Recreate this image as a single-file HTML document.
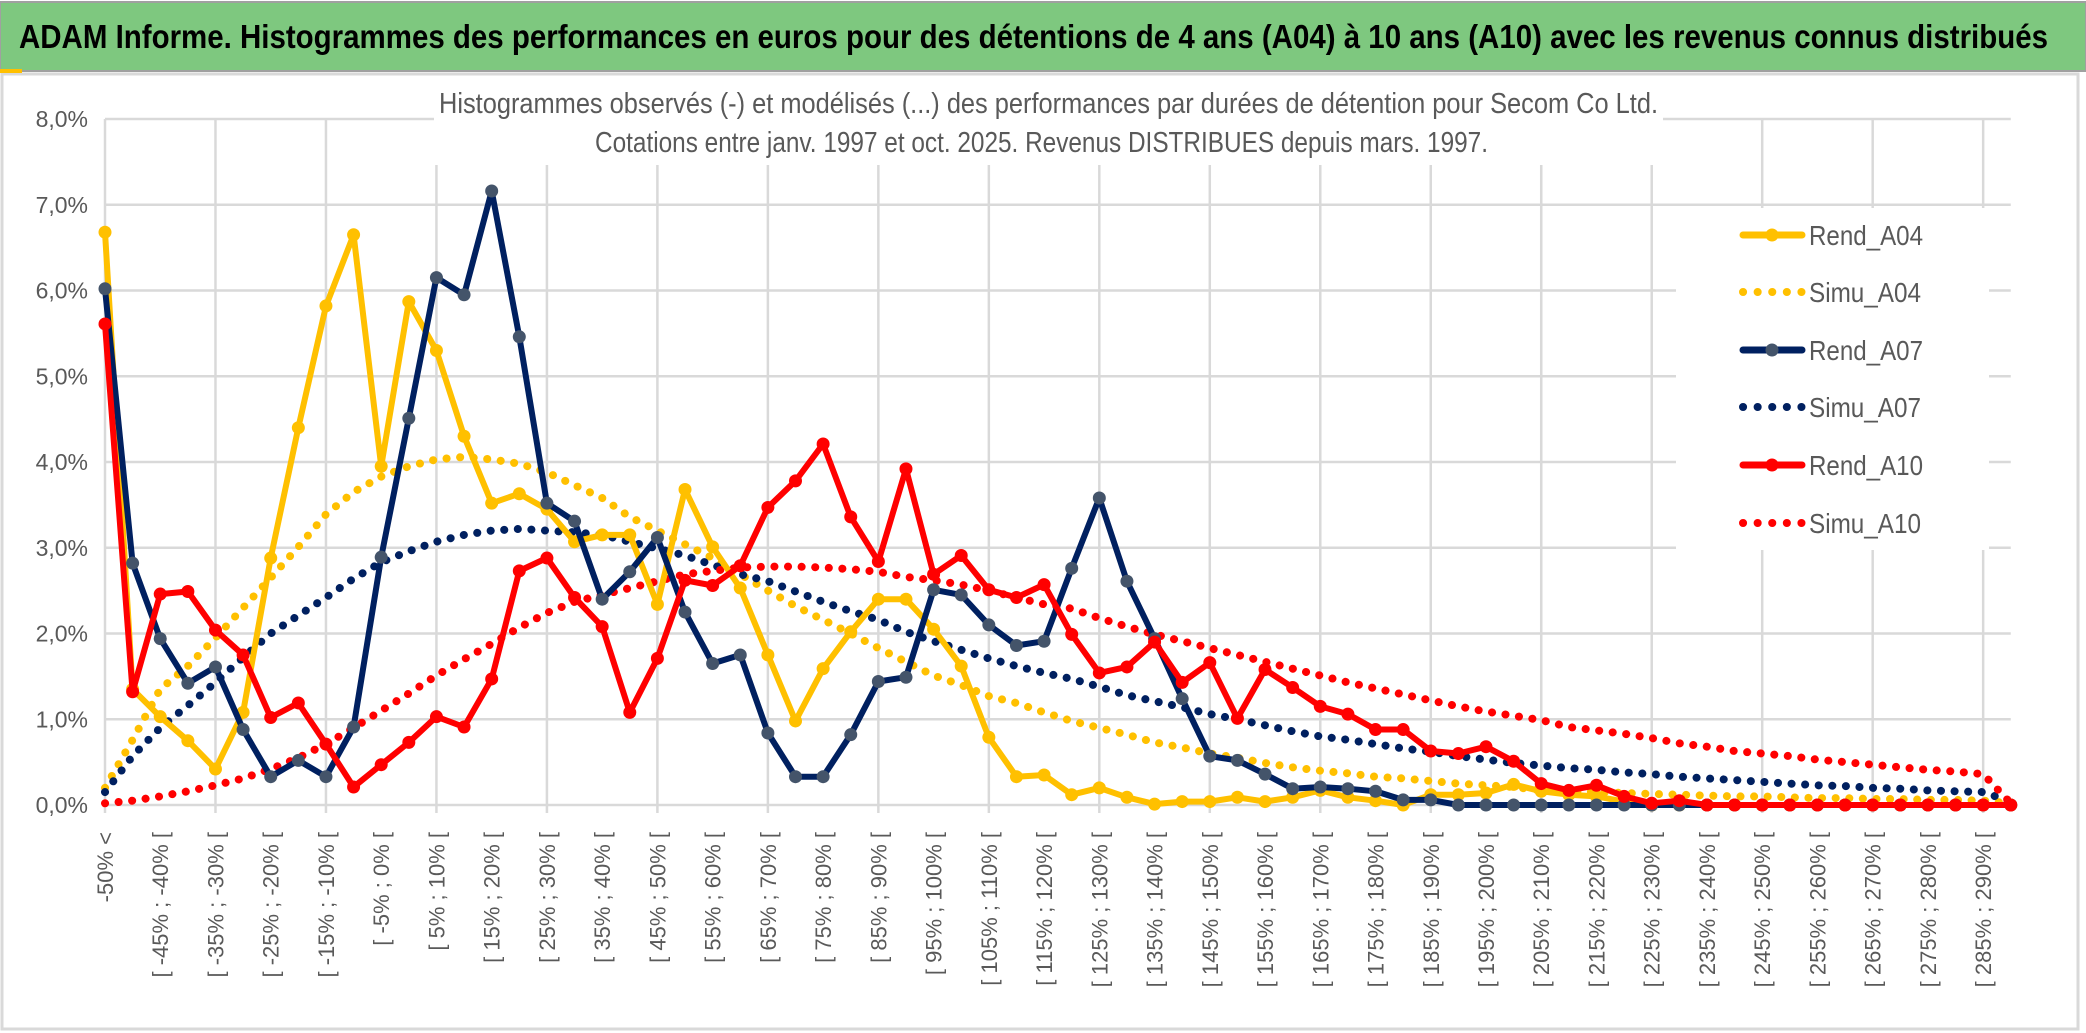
<!DOCTYPE html>
<html><head><meta charset="utf-8"><style>
html,body{margin:0;padding:0;background:#fff;width:2086px;height:1033px;overflow:hidden}
svg{display:block;font-family:"Liberation Sans",sans-serif}
</style></head><body>
<svg id="chart" width="2086" height="1033" viewBox="0 0 2086 1033" xmlns="http://www.w3.org/2000/svg">
<rect x="0" y="0" width="2086" height="1033" fill="#fff"/>
<rect x="2" y="74" width="2076" height="955" fill="#fff" stroke="#d9d9d9" stroke-width="3"/>
<rect x="0" y="2" width="2086" height="69" fill="#7ec87f" stroke="#a0a0a0" stroke-width="2"/>
<rect x="0" y="69" width="22" height="4" fill="#ffc000"/>
<text x="19" y="48" font-size="33" font-weight="bold" fill="#000" textLength="2029" lengthAdjust="spacingAndGlyphs">ADAM Informe. Histogrammes des performances en euros pour des détentions de 4 ans (A04) à 10 ans (A10) avec les revenus connus distribués</text>
<g id="grid"></g>
<rect x="434" y="80" width="1229" height="85" fill="#fff"/>
<text x="439" y="113" font-size="29" fill="#595959" textLength="1219" lengthAdjust="spacingAndGlyphs">Histogrammes observés (-) et modélisés (...) des performances par durées de détention pour Secom Co Ltd.</text>
<text x="595" y="152" font-size="29" fill="#595959" textLength="893" lengthAdjust="spacingAndGlyphs">Cotations entre janv. 1997 et oct. 2025. Revenus DISTRIBUES depuis mars. 1997.</text>
<g id="series"></g>
<g id="legend"></g>
</svg>
<script>
const categoriesCount = 70;
const yTicks = [0,1,2,3,4,5,6,7,8];
const yTickLabels = ["0,0%","1,0%","2,0%","3,0%","4,0%","5,0%","6,0%","7,0%","8,0%"];
const rendA04 = [6.68,1.35,1.03,0.75,0.42,1.08,2.88,4.40,5.82,6.65,3.95,5.87,5.30,4.30,3.52,3.63,3.45,3.07,3.15,3.15,2.34,3.68,3.01,2.53,1.75,0.98,1.59,2.02,2.40,2.40,2.05,1.62,0.79,0.33,0.35,0.12,0.20,0.09,0.01,0.04,0.04,0.09,0.04,0.09,0.17,0.09,0.05,0.00,0.12,0.12,0.14,0.24,0.16,0.12,0.10,0.04,0,0,0,0,0,0,0,0,0,0,0,0,0,0];
const simuA04 = [0.20,0.76,1.35,1.62,1.95,2.30,2.65,3.01,3.39,3.65,3.83,3.95,4.03,4.06,4.03,3.98,3.88,3.73,3.58,3.36,3.20,3.04,2.88,2.69,2.50,2.32,2.16,2.00,1.83,1.67,1.51,1.40,1.27,1.19,1.08,0.98,0.90,0.82,0.73,0.67,0.60,0.55,0.49,0.44,0.40,0.37,0.33,0.31,0.28,0.25,0.23,0.21,0.17,0.16,0.15,0.14,0.13,0.12,0.11,0.10,0.10,0.09,0.08,0.08,0.07,0.07,0.06,0.06,0.05,0.02];
const rendA07 = [6.02,2.82,1.94,1.42,1.61,0.88,0.33,0.52,0.33,0.91,2.89,4.51,6.15,5.95,7.16,5.46,3.52,3.31,2.40,2.72,3.12,2.25,1.65,1.75,0.84,0.33,0.33,0.82,1.44,1.49,2.51,2.45,2.10,1.86,1.91,2.76,3.58,2.61,1.94,1.24,0.57,0.52,0.36,0.19,0.21,0.19,0.16,0.06,0.06,0,0,0,0,0,0,0,0,0,0,0,0,0,0,0,0,0,0,0,0,0];
const simuA07 = [0.15,0.57,0.90,1.16,1.43,1.72,2.00,2.21,2.42,2.64,2.83,2.96,3.07,3.15,3.20,3.22,3.20,3.18,3.15,3.07,2.99,2.91,2.80,2.69,2.61,2.49,2.37,2.26,2.16,2.02,1.91,1.81,1.71,1.62,1.54,1.47,1.38,1.28,1.21,1.14,1.06,1.00,0.93,0.86,0.80,0.76,0.71,0.66,0.62,0.57,0.53,0.49,0.46,0.43,0.41,0.38,0.36,0.33,0.31,0.29,0.27,0.25,0.23,0.22,0.20,0.19,0.17,0.16,0.15,0.04];
const rendA10 = [5.61,1.32,2.46,2.49,2.04,1.75,1.02,1.19,0.71,0.21,0.47,0.73,1.03,0.91,1.47,2.73,2.88,2.42,2.08,1.08,1.71,2.62,2.56,2.79,3.47,3.78,4.21,3.36,2.84,3.92,2.69,2.91,2.51,2.42,2.57,1.99,1.54,1.61,1.90,1.43,1.66,1.01,1.58,1.37,1.15,1.06,0.88,0.88,0.63,0.60,0.68,0.51,0.25,0.17,0.23,0.10,0.02,0.05,0,0,0,0,0,0,0,0,0,0,0,0];
const simuA10 = [0.02,0.05,0.10,0.16,0.23,0.31,0.42,0.55,0.71,0.90,1.10,1.30,1.51,1.70,1.88,2.07,2.24,2.37,2.45,2.53,2.61,2.69,2.73,2.77,2.78,2.78,2.77,2.75,2.72,2.66,2.62,2.57,2.50,2.42,2.34,2.29,2.18,2.08,1.99,1.91,1.83,1.75,1.67,1.59,1.51,1.43,1.36,1.29,1.22,1.15,1.09,1.04,0.99,0.91,0.87,0.83,0.78,0.72,0.68,0.63,0.60,0.57,0.53,0.50,0.47,0.44,0.41,0.39,0.36,0.02];

const NS="http://www.w3.org/2000/svg";
const X0=105, DX=27.62, Y0=805, DY=85.75;
function xs(i){return X0+i*DX;}
function ys(v){return Y0-v*DY;}
function mk(tag,attrs,parent){const e=document.createElementNS(NS,tag);for(const k in attrs)e.setAttribute(k,attrs[k]);parent.appendChild(e);return e;}
function catLabel(i){
  if(i===0) return "-50% <";
  const a=-55+5*i, b=-50+5*i;
  return "[ "+a+"% ; "+b+"% [";
}
const grid=document.getElementById('grid');
const xEnd=xs(categoriesCount-1);
yTicks.forEach((t,k)=>{
  const l=mk('line',{x1:X0,x2:xEnd,y1:ys(t),y2:ys(t),stroke:'#d9d9d9','stroke-width':2.5},grid);
  
  
  const tx=mk('text',{x:88,y:ys(t)+8,'text-anchor':'end','font-size':23,fill:'#595959'},grid);
  tx.textContent=yTickLabels[k];
  
  
});
for(let i=0;i<categoriesCount;i+=4){
  const l=mk('line',{x1:xs(i),x2:xs(i),y1:ys(8),y2:Y0+8,stroke:'#d9d9d9','stroke-width':2.5},grid);
  
  
}
for(let i=0;i<categoriesCount;i+=2){
  const tx=mk('text',{x:0,y:0,'text-anchor':'end','font-size':22,fill:'#595959',transform:'translate('+(xs(i)+8)+',832) rotate(-90)'},grid);
  tx.textContent=catLabel(i);
  
  
}
const series=[
  {name:'rend-a04',label:'Rend_A04',data:rendA04,color:'#ffc000',marker:'#ffc000',dotted:false},
  {name:'simu-a04',label:'Simu_A04',data:simuA04,color:'#ffc000',dotted:true},
  {name:'rend-a07',label:'Rend_A07',data:rendA07,color:'#002060',marker:'#44546a',dotted:false},
  {name:'simu-a07',label:'Simu_A07',data:simuA07,color:'#002060',dotted:true},
  {name:'rend-a10',label:'Rend_A10',data:rendA10,color:'#ff0000',marker:'#ff0000',dotted:false},
  {name:'simu-a10',label:'Simu_A10',data:simuA10,color:'#ff0000',dotted:true}
];
const sg=document.getElementById('series');
const drawOrder=[1,3,5,0,2,4];
drawOrder.forEach(si=>{
  const s=series[si];
  const g=mk('g',{},sg);
  
  
  const pts=s.data.map((v,i)=>xs(i).toFixed(1)+','+ys(v).toFixed(1)).join(' ');
  const attrs={points:pts,fill:'none',stroke:s.color,'stroke-linejoin':'round','stroke-linecap':'round'};
  if(s.dotted){attrs['stroke-width']=8;attrs['stroke-dasharray']='0.1 13.5';}
  else attrs['stroke-width']=6;
  const pl=mk('polyline',attrs,g);
  
  
  if(!s.dotted){
    s.data.forEach((v,i)=>{
      const c=mk('circle',{cx:xs(i),cy:ys(v),r:6.5,fill:s.marker},g);
      
      
    });
  }
});
const lg=document.getElementById('legend');
mk('rect',{x:1676,y:208,width:313,height:342,fill:'#fff'},lg);


const legY=[235,292,350,407,465,523];
series.forEach((s,k)=>{
  const g=mk('g',{},lg);
  
  
  const y=legY[k];
  if(s.dotted){
    mk('line',{x1:1743,x2:1805,y1:y,y2:y,stroke:s.color,'stroke-width':8,'stroke-linecap':'round','stroke-dasharray':'0.1 14.5'},g);
  } else {
    mk('line',{x1:1743,x2:1802,y1:y,y2:y,stroke:s.color,'stroke-width':7,'stroke-linecap':'round'},g);
    mk('circle',{cx:1772,cy:y,r:6.5,fill:s.marker},g);
  }
  const t=mk('text',{x:1809,y:y+10,'font-size':28,fill:'#595959',textLength:(s.label.startsWith('Rend')?114:112),lengthAdjust:'spacingAndGlyphs'},g);
  t.textContent=s.label;
});
</script>
</body></html>
